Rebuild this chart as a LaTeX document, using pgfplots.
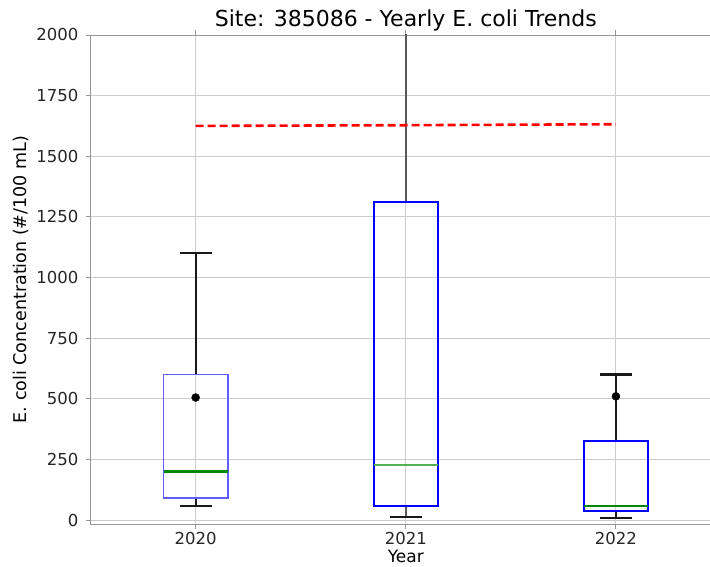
\documentclass[border=0pt]{standalone}
\usepackage{pgfplots}
\pgfplotsset{compat=1.18}
\usepackage{fontspec}
\setmainfont{DejaVu Sans}

\definecolor{spine}{RGB}{150,150,150}
\definecolor{gridc}{RGB}{205,205,205}
\definecolor{mpgreen}{RGB}{0,135,0}
\definecolor{medgreen}{RGB}{85,175,85}
\definecolor{lightblue}{RGB}{95,95,255}

\begin{document}
\begin{tikzpicture}
\begin{axis}[
    name=ax,
    scale only axis,
    width=630.4pt, height=489pt,
    xmin=0.5, xmax=3.5,
    ymin=-16.5, ymax=2000,
    xtick={1,2,3},
    xticklabels={2020,2021,2022},
    ytick={0,250,...,2000},
    /pgf/number format/1000 sep={},
    /pgf/number format/assume math mode=true,
    grid=major,
    grid style={gridc, line width=0.9pt},
    axis line style={spine, line width=0.9pt},
    tick align=outside,
    major tick length=5pt,
    tick style={spine, line width=0.9pt},
    ticklabel style={font=\fontsize{16.5}{19}\selectfont, text=black!85},
    yticklabel style={anchor=east, inner sep=0pt, xshift=-7pt},
    xticklabel style={anchor=base, inner sep=0pt, yshift=-16pt},
    every axis title shift=0pt,
    title={Site: 385086 - Yearly E. coli Trends},
    title style={at={(axis description cs:0.5,1.0164)}, anchor=base,
                 font=\fontsize{22}{25}\selectfont, inner sep=0pt},
    xlabel={Year},
    xlabel style={at={(axis description cs:0.5,-0.0797)}, anchor=base,
                  font=\fontsize{17}{19}\selectfont, inner sep=0pt},
    ylabel={E. coli Concentration (\#/100 mL)},
    ylabel style={at={(axis description cs:-0.11,0.5)}, anchor=center,
                  font=\fontsize{17.5}{20}\selectfont, inner sep=0pt},
    line join=miter,
]
% ---- 2020 ----
\addplot[black!90, line width=2.1pt] coordinates {(1,90) (1,58)};
\addplot[black!90, line width=2.1pt] coordinates {(0.924,58) (1.076,58)};
\addplot[black!90, line width=2.1pt] coordinates {(1,600) (1,1100)};
\addplot[black!90, line width=2.1pt] coordinates {(0.924,1100) (1.076,1100)};
\addplot[lightblue, line width=1.6pt, line cap=rect] coordinates {
  (0.8475,90) (1.1525,90) (1.1525,600) (0.8475,600) (0.8475,90)};
\addplot[mpgreen, line width=2.1pt] coordinates {(0.8475,200) (1.1525,200)};
\addplot[only marks, mark=*, mark size=4pt, black] coordinates {(1,505)};
% ---- 2021 ----
\addplot[black!65, line width=2.1pt] coordinates {(2,58) (2,12)};
\addplot[black!90, line width=2.1pt] coordinates {(1.924,12) (2.076,12)};
\addplot[black!65, line width=2.1pt] coordinates {(2,1310) (2,2400)};
\addplot[blue, line width=2.3pt, line cap=rect] coordinates {
  (1.8475,58) (2.1525,58) (2.1525,1310) (1.8475,1310) (1.8475,58)};
\addplot[medgreen, line width=2pt] coordinates {(1.8475,225) (2.1525,225)};
% ---- 2022 ----
\addplot[black!90, line width=2.1pt] coordinates {(3,38) (3,7)};
\addplot[black!90, line width=2.1pt] coordinates {(2.924,7) (3.076,7)};
\addplot[black!90, line width=2.1pt] coordinates {(3,325) (3,600)};
\addplot[black!90, line width=2.1pt] coordinates {(2.924,600) (3.076,600)};
\addplot[blue, line width=2.3pt, line cap=rect] coordinates {
  (2.8475,38) (3.1525,38) (3.1525,325) (2.8475,325) (2.8475,38)};
\addplot[mpgreen, line width=2.1pt] coordinates {(2.8475,58) (3.1525,58)};
\addplot[only marks, mark=*, mark size=4pt, black] coordinates {(3,510)};
% ---- threshold line ----
\addplot[red, line width=2.6pt, dash pattern=on 8pt off 4pt]
  coordinates {(1,1625) (2,1628) (3,1632)};
\end{axis}
\pgfresetboundingbox
\path[use as bounding box] (ax.south west) ++(-90.6pt,-43pt) rectangle ++(710pt,567pt);
\end{tikzpicture}
\end{document}
